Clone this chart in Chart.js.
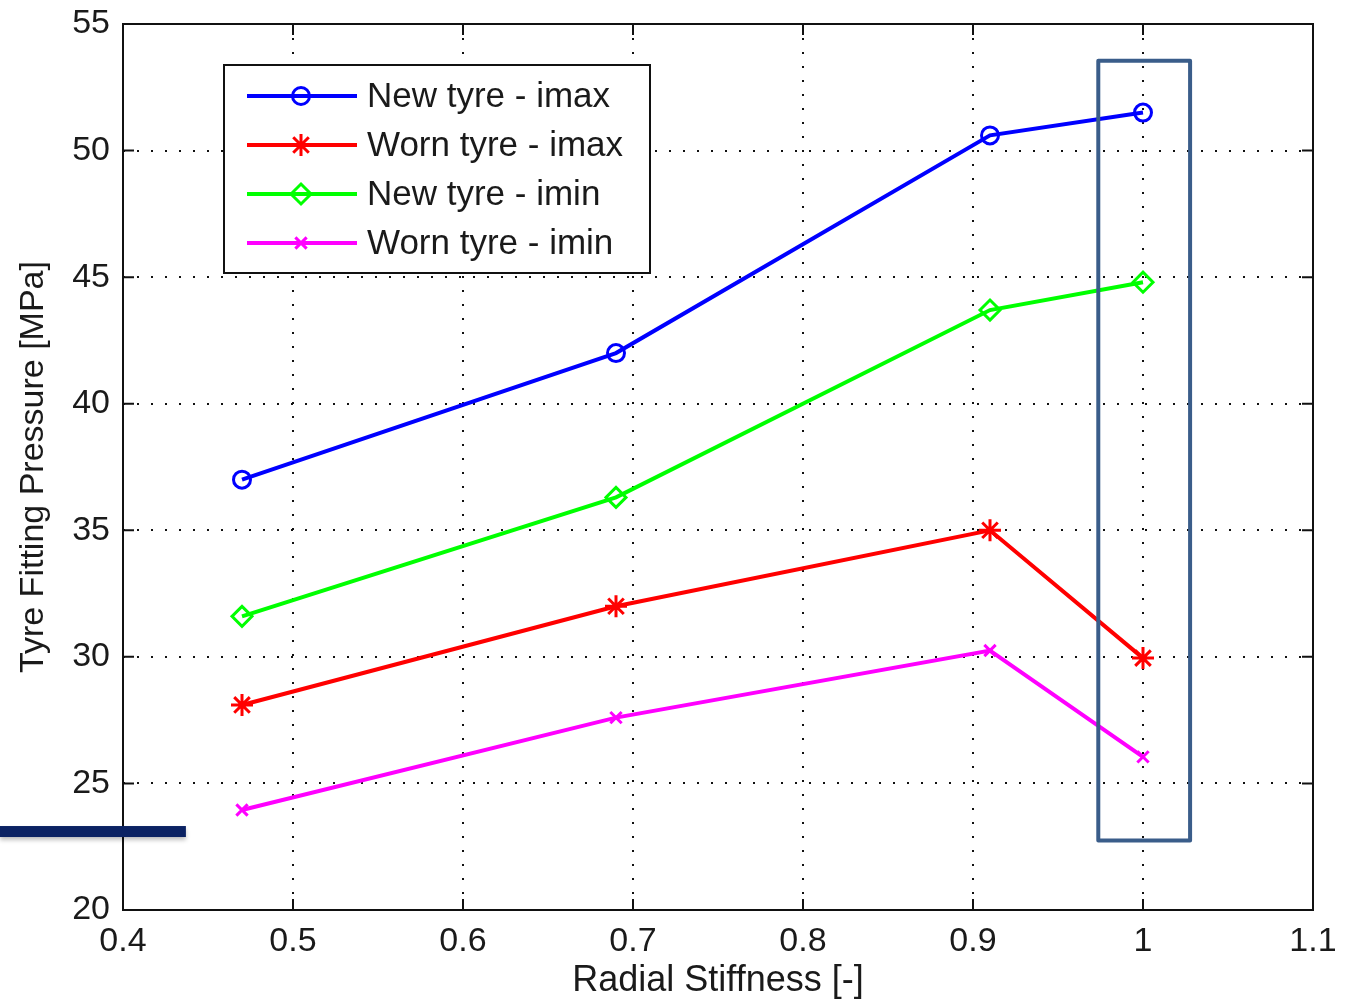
<!DOCTYPE html>
<html>
<head>
<meta charset="utf-8">
<script src="https://cdn.jsdelivr.net/npm/chart.js@4.4.0/dist/chart.umd.min.js"></script>
<style>
  html, body { margin: 0; padding: 0; background: #fff; }
  canvas { display: block; }
</style>
</head>
<body>
<canvas id="grafico" width="1348" height="1003"></canvas>
<script>
// datos
const stiffness = [0.47, 0.69, 0.91, 1.0];
const newImax = [37.0, 42.0, 50.6, 51.5];
const wornImax = [28.1, 32.0, 35.0, 29.95];
const newImin = [31.6, 36.3, 43.7, 44.8];
const wornImin = [23.95, 27.6, 30.25, 26.05];

const seriesNames = ['New tyre - imax', 'Worn tyre - imax', 'New tyre - imin', 'Worn tyre - imin'];
const xTicks = [0.4, 0.5, 0.6, 0.7, 0.8, 0.9, 1, 1.1];
const yTicks = [20, 25, 30, 35, 40, 45, 50, 55];

const FONT = '"Liberation Sans", Arial, sans-serif';
const TEXT = '#1a1a1a';

function puntos(valores) {
    return stiffness.map((x, i) => ({ x: x, y: valores[i] }));
}

const datasets = [
    { label: seriesNames[0], data: puntos(newImax), borderColor: '#0000ff', pointStyle: 'circle', pointRadius: 8.5 },
    { label: seriesNames[1], data: puntos(wornImax), borderColor: '#ff0000', pointStyle: 'star', pointRadius: 11 },
    { label: seriesNames[2], data: puntos(newImin), borderColor: '#00ff00', pointStyle: 'rectRot', pointRadius: 10 },
    { label: seriesNames[3], data: puntos(wornImin), borderColor: '#ff00ff', pointStyle: 'crossRot', pointRadius: 8 }
].map(d => Object.assign(d, {
    borderWidth: 4,
    pointBorderColor: d.borderColor,
    pointBackgroundColor: 'rgba(0,0,0,0)',
    pointBorderWidth: 3,
    tension: 0,
    fill: false
}));

// marco, ticks hacia dentro, leyenda y anotaciones estilo matlab
const estiloMatlab = {
    id: 'estiloMatlab',
    afterDatasetsDraw(chart) {
        const { ctx, chartArea: a, scales } = chart;
        const sx = scales.x, sy = scales.y;
        ctx.save();
        ctx.strokeStyle = '#111';
        ctx.lineWidth = 2;
        ctx.strokeRect(a.left, a.top, a.right - a.left, a.bottom - a.top);

        ctx.beginPath();
        xTicks.forEach(v => {
            const px = sx.getPixelForValue(v);
            ctx.moveTo(px, a.bottom); ctx.lineTo(px, a.bottom - 11);
            ctx.moveTo(px, a.top); ctx.lineTo(px, a.top + 11);
        });
        yTicks.forEach(v => {
            const py = sy.getPixelForValue(v);
            ctx.moveTo(a.left, py); ctx.lineTo(a.left + 11, py);
            ctx.moveTo(a.right, py); ctx.lineTo(a.right - 11, py);
        });
        ctx.stroke();

        // leyenda
        const lx = a.left + 101, ly = a.top + 41;
        ctx.fillStyle = '#fff';
        ctx.fillRect(lx, ly, 426, 208);
        ctx.strokeStyle = '#111';
        ctx.lineWidth = 2;
        ctx.strokeRect(lx, ly, 426, 208);
        ctx.font = '35px ' + FONT;
        ctx.textBaseline = 'middle';
        chart.data.datasets.forEach((ds, i) => {
            const y = ly + 31 + i * 49;
            ctx.strokeStyle = ds.borderColor;
            ctx.lineWidth = ds.borderWidth;
            ctx.beginPath();
            ctx.moveTo(lx + 23, y); ctx.lineTo(lx + 133, y);
            ctx.stroke();
            ctx.lineWidth = ds.pointBorderWidth;
            ctx.fillStyle = 'rgba(0,0,0,0)';
            Chart.helpers.drawPoint(ctx, { pointStyle: ds.pointStyle, radius: ds.pointRadius, borderWidth: ds.pointBorderWidth, rotation: 0 }, lx + 77, y);
            ctx.fillStyle = TEXT;
            ctx.fillText(ds.label, lx + 143, y + 1);
        });

        // recuadro alrededor de x = 1
        const rx1 = sx.getPixelForValue(0.9737), rx2 = sx.getPixelForValue(1.0277);
        const ry1 = sy.getPixelForValue(53.55), ry2 = sy.getPixelForValue(22.75);
        ctx.strokeStyle = '#3a5d8a';
        ctx.lineWidth = 4;
        ctx.lineJoin = 'round';
        ctx.strokeRect(rx1, ry1, rx2 - rx1, ry2 - ry1);

        // barra azul oscuro a la izquierda
        const by = sy.getPixelForValue(23.1);
        ctx.shadowColor = 'rgba(0,0,0,0.25)';
        ctx.shadowBlur = 4;
        ctx.shadowOffsetY = 3;
        ctx.fillStyle = '#0b2263';
        ctx.fillRect(0, by - 5.5, sx.getPixelForValue(0.437), 11);
        ctx.restore();
    }
};

const bordeGrid = (ctx) => (ctx.index === 0 || ctx.index === ctx.chart.scales[ctx.scale.id].ticks.length - 1) ? 'rgba(0,0,0,0)' : '#111';

new Chart(document.getElementById('grafico'), {
    type: 'line',
    data: { datasets: datasets },
    options: {
        responsive: false,
        devicePixelRatio: 1,
        animation: false,
        layout: { padding: { left: 0, top: 24, right: 35, bottom: 0 } },
        plugins: {
            legend: { display: false },
            tooltip: { enabled: false }
        },
        scales: {
            x: {
                type: 'linear',
                min: 0.4,
                max: 1.1,
                afterBuildTicks: s => { s.ticks = xTicks.map(v => ({ value: v })); },
                afterFit: s => { s.height = 93; s.paddingLeft = 0; s.paddingRight = 0; },
                border: { display: false, dash: [2, 12] },
                grid: { color: bordeGrid, lineWidth: 2, drawTicks: false },
                ticks: {
                    padding: 11,
                    color: TEXT,
                    font: { family: FONT, size: 34 },
                    maxRotation: 0,
                    callback: v => String(Math.round(v * 10) / 10)
                },
                title: {
                    display: true,
                    text: 'Radial Stiffness [-]',
                    color: TEXT,
                    font: { family: FONT, size: 36, lineHeight: 1.2 },
                    padding: { top: 0, bottom: 0 }
                }
            },
            y: {
                type: 'linear',
                min: 20,
                max: 55,
                afterBuildTicks: s => { s.ticks = yTicks.map(v => ({ value: v })); },
                afterFit: s => { s.width = 123; s.paddingTop = 0; s.paddingBottom = 0; },
                border: { display: false, dash: [2, 12] },
                grid: { color: bordeGrid, lineWidth: 2, drawTicks: false },
                ticks: {
                    padding: 13,
                    color: TEXT,
                    font: { family: FONT, size: 34 }
                },
                title: {
                    display: true,
                    text: 'Tyre Fitting Pressure [MPa]',
                    color: TEXT,
                    font: { family: FONT, size: 34, lineHeight: 1.2 },
                    padding: { top: 13, bottom: 0 }
                }
            }
        }
    },
    plugins: [estiloMatlab]
});
</script>
</body>
</html>
